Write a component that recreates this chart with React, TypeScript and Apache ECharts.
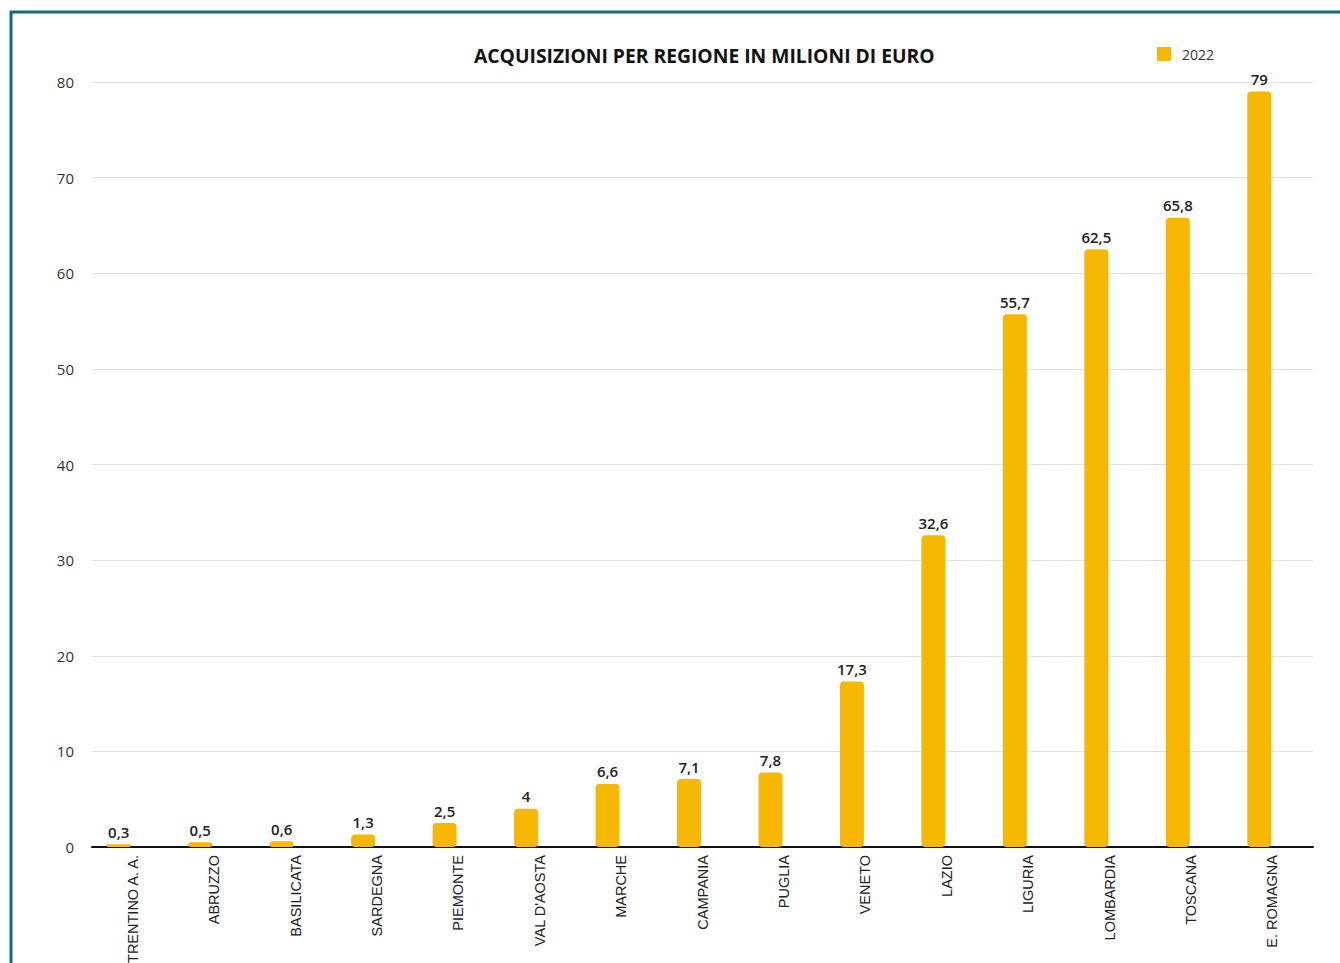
import React, { useEffect, useRef } from "react";
import * as echarts from "echarts";

const regions = [
  "TRENTINO A. A.", "ABRUZZO", "BASILICATA", "SARDEGNA", "PIEMONTE", "VAL D'AOSTA",
  "MARCHE", "CAMPANIA", "PUGLIA", "VENETO", "LAZIO", "LIGURIA", "LOMBARDIA", "TOSCANA", "E. ROMAGNA",
];
const values2022 = [0.3, 0.5, 0.6, 1.3, 2.5, 4, 6.6, 7.1, 7.8, 17.3, 32.6, 55.7, 62.5, 65.8, 79];
const yMin = 0;
const yMax = 80;
const yStep = 10;
const seriesName = "2022";
const title = "ACQUISIZIONI PER REGIONE IN MILIONI DI EURO";

export default function App() {
  const ref = useRef<HTMLDivElement>(null);
  useEffect(() => {
    const chart = echarts.init(ref.current!, null, { renderer: "svg" });
    const numFont = "'Open Sans', 'Noto Sans', sans-serif";
    chart.setOption({
      animation: false,
      backgroundColor: "#ffffff",
      title: {
        text: title,
        left: 469,
        top: 41,
        textStyle: { fontFamily: numFont, fontWeight: "bold", fontSize: 19.3, color: "#111" },
      },
      legend: {
        data: [seriesName],
        left: 1152,
        top: 42,
        icon: "rect",
        itemWidth: 14,
        itemHeight: 14,
        itemGap: 10,
        textStyle: { fontFamily: numFont, fontSize: 14, color: "#333", padding: [0, 0, 0, 6] },
      },
      graphic: [
        { type: "line", shape: { x1: 10, y1: 12, x2: 1340, y2: 12 }, style: { stroke: "#17697d", lineWidth: 3 } },
        { type: "line", shape: { x1: 11, y1: 11, x2: 11, y2: 963 }, style: { stroke: "#17697d", lineWidth: 3 } },
      ],
      grid: [
        { left: 92, right: 27, top: 82, bottom: 116, containLabel: false, outerBoundsMode: "none" },
        { left: 78, right: 40, top: 82, bottom: 116, containLabel: false, outerBoundsMode: "none" },
      ],
      xAxis: [
        {
          type: "category",
          gridIndex: 0,
          data: regions,
          axisLine: { show: true, lineStyle: { color: "#111", width: 2 } },
          axisTick: { show: false },
          axisLabel: {
            rotate: 90,
            interval: 0,
            margin: 8,
            fontFamily: "'Liberation Sans', Arial, sans-serif",
            fontSize: 14.5,
            color: "#222",
          },
        },
        {
          type: "category",
          gridIndex: 1,
          data: regions,
          show: false,
        },
      ],
      yAxis: [
        {
          type: "value",
          gridIndex: 0,
          min: yMin,
          max: yMax,
          interval: yStep,
          axisLine: { show: false },
          axisTick: { show: false },
          axisLabel: { margin: 18, fontFamily: numFont, fontSize: 15, color: "#333" },
          splitLine: { lineStyle: { color: "#e6e0de", width: 1 } },
        },
        {
          type: "value",
          gridIndex: 1,
          min: yMin,
          max: yMax,
          interval: yStep,
          show: false,
          splitLine: { show: false },
        },
      ],
      series: [
        {
          name: seriesName,
          type: "bar",
          xAxisIndex: 1,
          yAxisIndex: 1,
          data: values2022,
          barWidth: 24,
          itemStyle: { color: "#F6B800", borderRadius: 4 },
          label: {
            show: true,
            position: "top",
            distance: 5,
            fontFamily: numFont,
            fontSize: 15,
            fontWeight: 600,
            color: "#222",
            formatter: (p: any) => String(p.value).replace(".", ","),
          },
        },
      ],
    });
    return () => chart.dispose();
  }, []);
  return (
    <div
      ref={ref}
      style={{ position: "fixed", left: 0, top: 0, width: 1340, height: 963 }}
    />
  );
}
